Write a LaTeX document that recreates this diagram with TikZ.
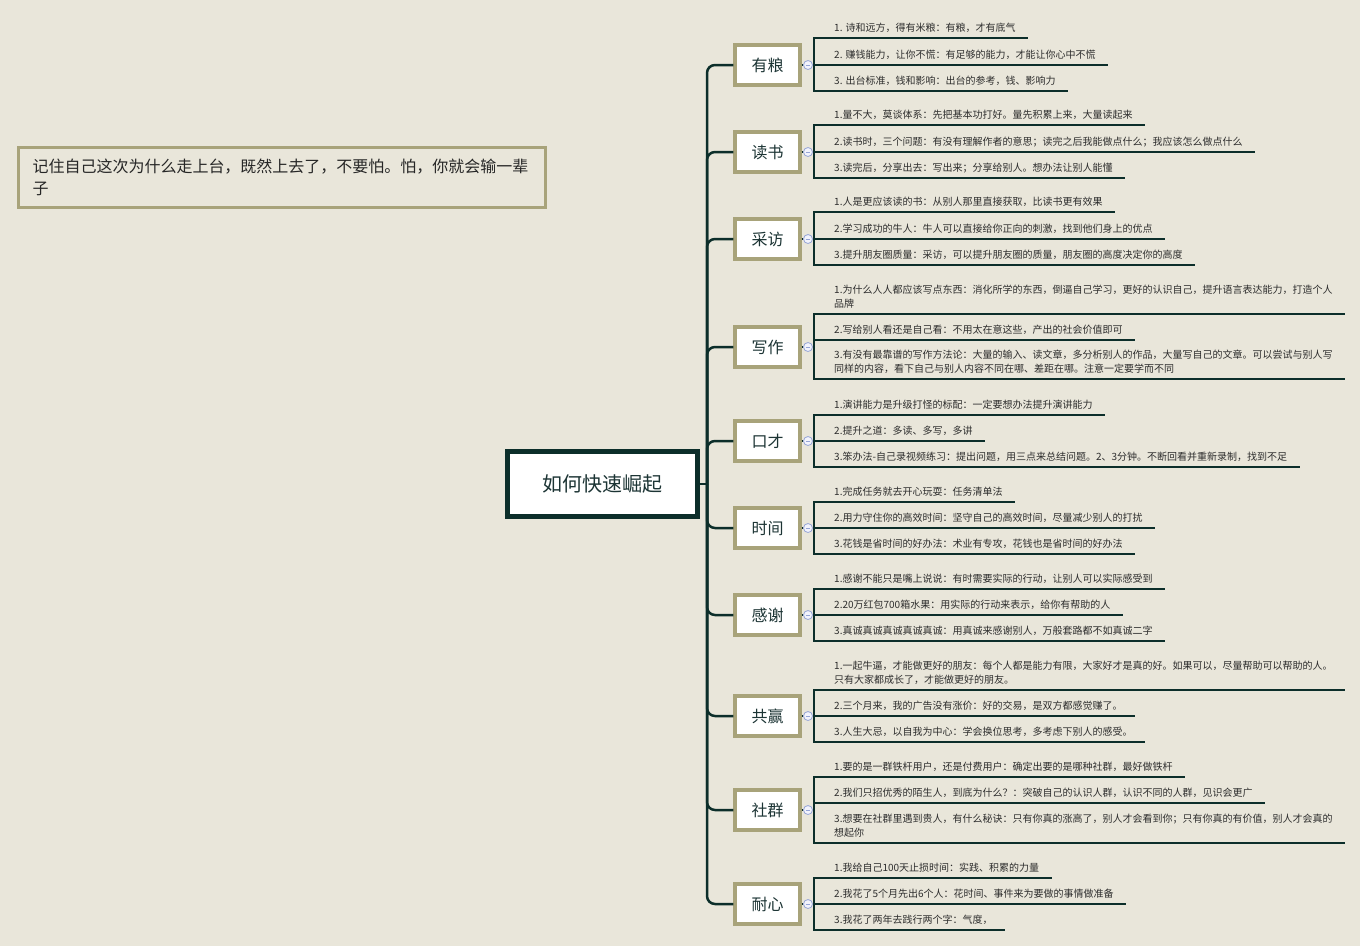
\documentclass[tikz,border=0pt]{standalone}
\usepackage{fontspec}
\setmainfont{Noto Sans CJK SC}
\usetikzlibrary{calc}
\definecolor{bg}{RGB}{233,230,218}
\definecolor{dk}{RGB}{12,46,42}
\definecolor{ol}{RGB}{168,163,122}
\definecolor{tx}{RGB}{45,45,45}
\definecolor{tt}{RGB}{28,52,52}
\definecolor{cb}{RGB}{150,165,215}
\definecolor{cf}{RGB}{242,243,252}
\newcommand\grp[3]{%
  \node[topic] (#1) at (767.5,#2) {#3};
  \node[fold] (#1f) at (808,#2) {};
  \coordinate (#1b) at (814,#2);
  \draw[ln, rounded corners=8pt] (hub) |- (#1.west);
  \draw[ln] (#1.east) -- (#1f.west);
  \draw[ln] (#1f.east) -- (#1b);
}
\newcommand\lf[3]{%
  \node[leaf] (#1) at (834,#2-3.5) {#3};
  \coordinate (#1s) at (814,#2);
  \draw[ln, line cap=rect] (#1s) -- ($(#1.south east)+(11,3.5)$);
}
\begin{document}
\begin{tikzpicture}[x=1pt,y=-1pt,
  ln/.style={draw=dk, line width=2.5pt},
  topic/.style={draw=ol, line width=3.3pt, fill=white, minimum width=65pt, minimum height=40pt, inner sep=0pt, text=tt, font=\fontsize{16}{18}\selectfont},
  rootnode/.style={draw=dk, line width=5pt, fill=white, minimum width=190pt, minimum height=65pt, inner sep=0pt, text=tt, font=\fontsize{20}{24}\selectfont},
  leaf/.style={anchor=south west, inner sep=0pt, align=left, text=tx, text depth=2.5pt, font=\fontsize{10}{14}\selectfont},
  fold/.style={circle, draw=cb, fill=cf, line width=0.8pt, minimum size=9pt, inner sep=0pt,
    path picture={\draw[cb, line width=0.8pt] ([xshift=-2.2pt]path picture bounding box.center) -- ([xshift=2.2pt]path picture bounding box.center);}},
  memo/.style={draw=ol, line width=2.7pt, fill=bg, minimum width=527pt, minimum height=60.5pt, text width=499pt, inner xsep=14pt, align=left, text=black!85, font=\fontsize{16}{22}\selectfont}
]
\path[use as bounding box, fill=bg] (0,0) rectangle (1360,946);

\node[memo] (memo) at (282,177.5) {记住自己这次为什么走上台，既然上去了，不要怕。怕，你就会输一辈\\子};

\node[rootnode] (root) at (602.5,484) {如何快速崛起};
\coordinate (hub) at (707,484);
\draw[ln] (root.east) -- (hub);

% 有粮
\grp{g1}{65}{有粮}
\lf{a1}{38}{1. 诗和远方，得有米粮：有粮，才有底气}
\lf{a2}{65}{2. 赚钱能力，让你不慌：有足够的能力，才能让你心中不慌}
\lf{a3}{91}{3. 出台标准，钱和影响：出台的参考，钱、影响力}
\draw[ln, line cap=rect] (a1s) -- (a3s);

% 读书
\grp{g2}{152}{读书}
\lf{b1}{125}{1.量不大，莫谈体系：先把基本功打好。量先积累上来，大量读起来}
\lf{b2}{152}{2.读书时，三个问题：有没有理解作者的意思；读完之后我能做点什么；我应该怎么做点什么}
\lf{b3}{178}{3.读完后，分享出去：写出来；分享给别人。想办法让别人能懂}
\draw[ln, line cap=rect] (b1s) -- (b3s);

% 采访
\grp{g3}{239}{采访}
\lf{c1}{212}{1.人是更应该读的书：从别人那里直接获取，比读书更有效果}
\lf{c2}{239}{2.学习成功的牛人：牛人可以直接给你正向的刺激，找到他们身上的优点}
\lf{c3}{265}{3.提升朋友圈质量：采访，可以提升朋友圈的质量，朋友圈的高度决定你的高度}
\draw[ln, line cap=rect] (c1s) -- (c3s);

% 写作
\grp{g4}{347}{写作}
\lf{d1}{314}{1.为什么人人都应该写点东西：消化所学的东西，倒逼自己学习，更好的认识自己，提升语言表达能力，打造个人\\品牌}
\lf{d2}{340}{2.写给别人看还是自己看：不用太在意这些，产出的社会价值即可}
\lf{d3}{379}{3.有没有最靠谱的写作方法论：大量的输入、读文章，多分析别人的作品，大量写自己的文章。可以尝试与别人写\\同样的内容，看下自己与别人内容不同在哪、差距在哪。注意一定要学而不同}
\draw[ln, line cap=rect] (d1s) -- (d3s);

% 口才
\grp{g5}{441}{口才}
\lf{e1}{415}{1.演讲能力是升级打怪的标配：一定要想办法提升演讲能力}
\lf{e2}{441}{2.提升之道：多读、多写，多讲}
\lf{e3}{467}{3.笨办法-自己录视频练习：提出问题，用三点来总结问题。2、3分钟。不断回看并重新录制，找到不足}
\draw[ln, line cap=rect] (e1s) -- (e3s);

% 时间
\grp{g6}{528}{时间}
\lf{f1}{502}{1.完成任务就去开心玩耍：任务清单法}
\lf{f2}{528}{2.用力守住你的高效时间：坚守自己的高效时间，尽量减少别人的打扰}
\lf{f3}{554}{3.花钱是省时间的好办法：术业有专攻，花钱也是省时间的好办法}
\draw[ln, line cap=rect] (f1s) -- (f3s);

% 感谢
\grp{g7}{615}{感谢}
\lf{h1}{589}{1.感谢不能只是嘴上说说：有时需要实际的行动，让别人可以实际感受到}
\lf{h2}{615}{2.20万红包700箱水果：用实际的行动来表示，给你有帮助的人}
\lf{h3}{641}{3.真诚真诚真诚真诚真诚：用真诚来感谢别人，万般套路都不如真诚二字}
\draw[ln, line cap=rect] (h1s) -- (h3s);

% 共赢
\grp{g8}{716}{共赢}
\lf{k1}{690}{1.一起牛逼，才能做更好的朋友：每个人都是能力有限，大家好才是真的好。如果可以，尽量帮助可以帮助的人。\\只有大家都成长了，才能做更好的朋友。}
\lf{k2}{716}{2.三个月来，我的广告没有涨价：好的交易，是双方都感觉赚了。}
\lf{k3}{742}{3.人生大忌，以自我为中心：学会换位思考，多考虑下别人的感受。}
\draw[ln, line cap=rect] (k1s) -- (k3s);

% 社群
\grp{g9}{810}{社群}
\lf{m1}{777}{1.要的是一群铁杆用户，还是付费用户：确定出要的是哪种社群，最好做铁杆}
\lf{m2}{803}{2.我们只招优秀的陌生人，到底为什么？：突破自己的认识人群，认识不同的人群，见识会更广}
\lf{m3}{843}{3.想要在社群里遇到贵人，有什么秘诀：只有你真的涨高了，别人才会看到你；只有你真的有价值，别人才会真的\\想起你}
\draw[ln, line cap=rect] (m1s) -- (m3s);

% 耐心
\grp{g10}{904}{耐心}
\lf{n1}{878}{1.我给自己100天止损时间：实践、积累的力量}
\lf{n2}{904}{2.我花了5个月先出6个人：花时间、事件来为要做的事情做准备}
\lf{n3}{930}{3.我花了两年去践行两个字：气度，}
\draw[ln, line cap=rect] (n1s) -- (n3s);
\end{tikzpicture}
\end{document}
